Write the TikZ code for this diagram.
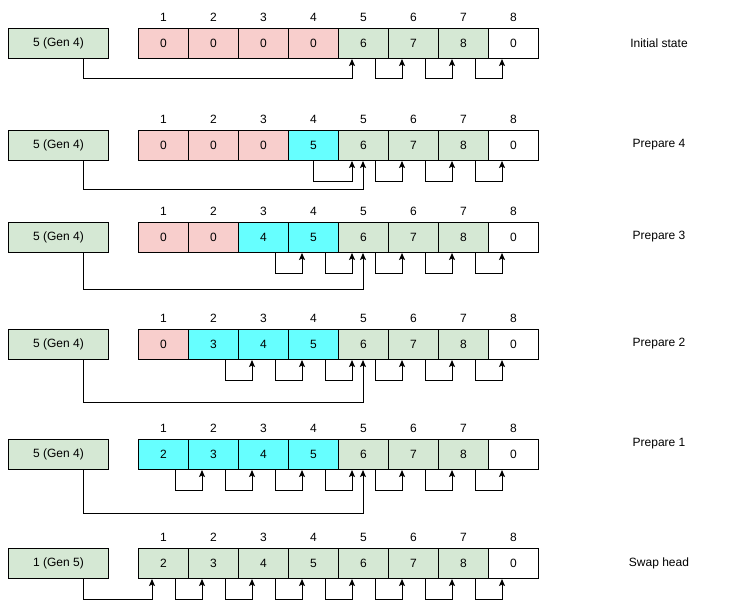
\documentclass[tikz,border=0pt]{standalone}
\usepackage{fontspec}
\setmainfont{Liberation Sans}
\usetikzlibrary{arrows.meta,calc}
\definecolor{pk}{RGB}{248,206,204}
\definecolor{gn}{RGB}{213,232,212}
\definecolor{cy}{RGB}{102,255,255}
\definecolor{wh}{RGB}{255,255,255}

\begin{document}
\begin{tikzpicture}[x=1pt, y=-1pt, font=\fontsize{12}{14}\selectfont,
        cell/.style={draw, line width=1pt, minimum width=50pt, minimum height=30pt, inner sep=0pt, anchor=north west},
        headbox/.style={cell, minimum width=100pt, fill=gn},
        link/.style={-{Stealth[length=7pt, width=6pt, inset=1.5pt]}, line width=1pt}]
        \useasboundingbox (0,0) rectangle (747,615);

        % One row per step: head, cells, links, caption
        \foreach \r/\top/\head/\cells/\from/\ox/\to/\tox/\hd/\lab/\laby in {
            1/28/{5 (Gen 4)}/{0/pk,0/pk,0/pk,0/pk,6/gn,7/gn,8/gn,0/wh}/5/37/5/14/20/{Initial state}/43,
            2/130/{5 (Gen 4)}/{0/pk,0/pk,0/pk,5/cy,6/gn,7/gn,8/gn,0/wh}/4/25/5/25/28/{Prepare 4}/145,
            3/222/{5 (Gen 4)}/{0/pk,0/pk,4/cy,5/cy,6/gn,7/gn,8/gn,0/wh}/3/37/5/25/36/{Prepare 3}/237,
            4/329/{5 (Gen 4)}/{0/pk,3/cy,4/cy,5/cy,6/gn,7/gn,8/gn,0/wh}/2/37/5/25/42/{Prepare 2}/344,
            5/439/{5 (Gen 4)}/{2/cy,3/cy,4/cy,5/cy,6/gn,7/gn,8/gn,0/wh}/1/37/5/25/43/{Prepare 1}/444,
            6/548/{1 (Gen 5)}/{2/gn,3/gn,4/gn,5/gn,6/gn,7/gn,8/gn,0/wh}/1/37/1/14/20/{Swap head}/563}{
            % Head box
            \node[headbox] (h\r) at (8,\top) {\head};

            % Cells with their indices
            \foreach \v/\c [count=\i] in \cells {
                \node[cell, fill=\c] (r\r-\i) at ({88+50*\i},\top) {\v};
                \node (n\r-\i) at ($(r\r-\i.north)+(0,-11)$) {\i};
            }

            % Links from cell to cell
            \foreach \i [evaluate=\i as \j using int(\i+1)] in {\from,...,7} {
                \pgfmathsetmacro\o{\i==\from ? \ox : 37}
                \draw[link] ($(r\r-\i.south west)+(\o,0)$) -- ++(0,20) -| ($(r\r-\j.south west)+(14,0)$);
            }

            % Head link
            \draw[link] ($(h\r.south west)+(75,0)$) -- ++(0,\hd) -| ($(r\r-\to.south west)+(\tox,0)$);

            % Caption
            \node (l\r) at (659,\laby) {\lab};
        }
    \end{tikzpicture}
\end{document}
